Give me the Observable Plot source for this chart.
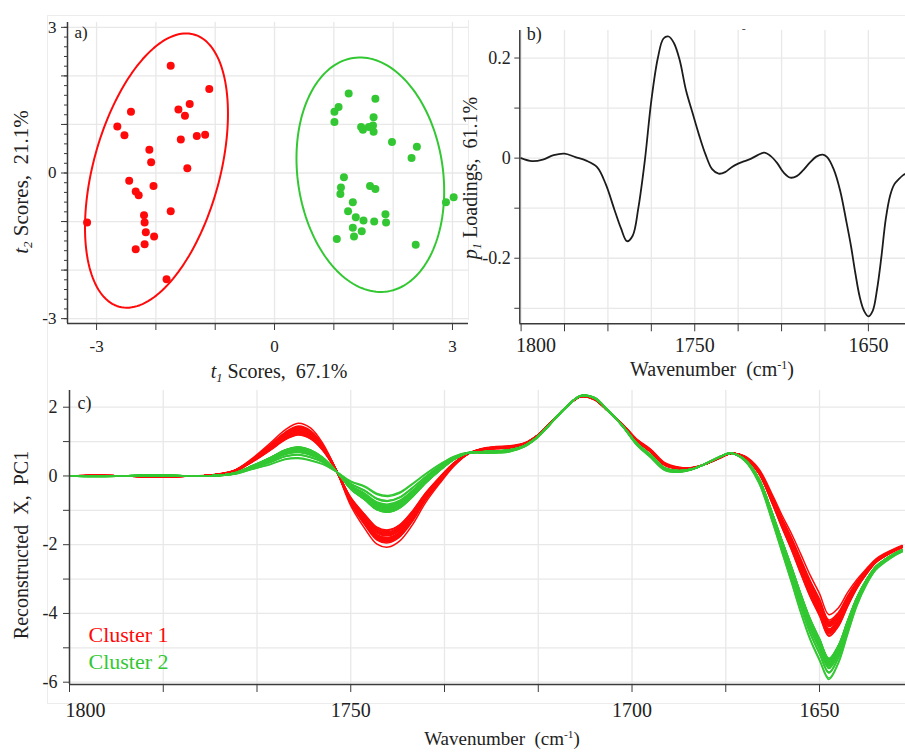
<!DOCTYPE html>
<html><head><meta charset="utf-8">
<script src="https://cdn.jsdelivr.net/npm/d3@7"></script>
<script src="https://cdn.jsdelivr.net/npm/@observablehq/plot@0.6"></script>
<style>
body{margin:0;background:#fff;}
#chart{position:relative;width:905px;height:753px;overflow:hidden;background:#fff;font-family:"Liberation Serif","Times New Roman",serif;color:#222;}
.lbl{position:absolute;white-space:nowrap;font-size:20px;line-height:1.1;color:#222;}
.rot{transform:translate(-50%,-50%) rotate(-90deg);}
.ctr{transform:translate(-50%,-50%);}
.frame{position:absolute;background:#ececec;}
sub{font-size:0.62em;vertical-align:-0.3em;line-height:0;}
sup{font-size:0.6em;vertical-align:0.55em;line-height:0;}
#chart svg text{font-family:"Liberation Serif","Times New Roman",serif;}
</style></head><body><div id="chart"></div><script>
// ---------------- DATA ----------------
const clusterNames = ["Cluster 1", "Cluster 2"];
// Panel a: PCA scores (t1, t2)
const cluster1T1 = [-1.75,-1.10,-2.42,-1.62,-1.43,-1.51,-2.65,-2.53,-1.58,-1.31,-1.17,-2.11,-2.08,-1.47,-2.45,-2.34,-2.29,-2.04,-1.75,-2.20,-2.19,-3.16,-2.17,-2.03,-2.19,-2.34,-1.82];
const cluster1T2 = [2.21,1.73,1.26,1.31,1.42,1.18,0.96,0.78,0.69,0.76,0.79,0.48,0.22,0.10,-0.16,-0.38,-0.46,-0.27,-0.79,-0.87,-1.02,-1.02,-1.22,-1.31,-1.47,-1.57,-2.19];
const cluster2T1 = [1.25,1.70,1.08,1.01,1.01,1.67,1.46,1.49,1.59,1.66,1.67,1.98,2.40,2.31,1.17,1.12,1.11,1.61,1.70,1.32,1.24,1.37,1.50,1.68,1.87,1.88,1.32,1.47,1.34,1.05,2.38,2.89,3.02];
const cluster2T2 = [1.64,1.53,1.36,1.26,1.05,1.15,0.95,0.89,0.95,0.98,0.85,0.64,0.54,0.31,-0.09,-0.30,-0.43,-0.27,-0.33,-0.60,-0.79,-0.91,-0.98,-1.00,-0.85,-1.02,-1.13,-1.20,-1.31,-1.36,-1.48,-0.60,-0.50];
// confidence ellipses: centre, spread, correlation
const ellipseCX = [-1.99, 1.615];
const ellipseCY = [0.05, -0.035];
const ellipseSX = [1.205, 1.245];
const ellipseSY = [2.825, 2.415];
const ellipseRho = [0.415, -0.14];
const scoreTicks = [-3,-2,-1,0,1,2,3];
const scoreTickLabels = [-3,0,3];

// Spectral variable positions (axis index units) and loadings / mean spectrum
const wnIdx = [0,0.25,0.5,0.75,1,1.25,1.5,1.75,1.95,2.15,2.3,2.44,2.57,2.7,2.85,3,3.15,3.28,3.4,3.52,3.65,3.8,3.95,4.1,4.25,4.4,4.55,4.7,4.85,5,5.15,5.3,5.45,5.6,5.75,5.9,6.05,6.2,6.35,6.5,6.65,6.8,6.95,7.05,7.2,7.35,7.5,7.6,7.7,7.8,7.9,8,8.1,8.2,8.3,8.4,8.5,8.6,8.7,8.8,8.88];
const p1Loadings = [0,-0.006,-0.003,0.006,0.009,0.002,-0.005,-0.018,-0.052,-0.103,-0.14,-0.166,-0.155,-0.10,-0.005,0.115,0.20,0.239,0.243,0.23,0.197,0.135,0.09,0.046,0.007,-0.022,-0.031,-0.028,-0.018,-0.011,-0.006,-0.001,0.006,0.011,0.004,-0.01,-0.029,-0.039,-0.036,-0.024,-0.009,0.003,0.007,0.002,-0.022,-0.065,-0.13,-0.176,-0.23,-0.277,-0.305,-0.316,-0.305,-0.262,-0.197,-0.122,-0.075,-0.052,-0.042,-0.034,-0.030];
const meanSpectrum = [0,0,0,0,0,0,0.01,0.10,0.35,0.65,0.90,1.01,0.91,0.64,0.13,-0.50,-0.90,-1.23,-1.30,-1.17,-0.83,-0.34,0.07,0.43,0.66,0.73,0.76,0.79,0.90,1.17,1.59,2.01,2.32,2.25,1.88,1.47,0.985,0.65,0.27,0.18,0.22,0.37,0.56,0.66,0.51,0.01,-0.975,-1.70,-2.40,-3.15,-3.85,-4.42,-5.0,-4.67,-4.01,-3.40,-2.94,-2.58,-2.38,-2.22,-2.12];
const scoreScale = 1.0;
// axis ticks / labels (wavenumber, cm-1)
const bTickPos = [0,1,2,3,4,5,6,7,8];
const bTickLabels = ["1800","1750","1650"];
const bTickLabelPos = [0,4,8];
const cTickPos = [0,1,2,3,4,5,6,7,8];
const cTickLabels = ["1800","1750","1700","1650"];
const cTickLabelPos = [0,3,6,8];
const loadTicks = [-0.3,-0.2,-0.1,0,0.1,0.2];
const loadTickLabels = [-0.2,0,0.2];
const reconTicks = [-6,-5,-4,-3,-2,-1,0,1,2];
const reconTickLabels = [-6,-4,-2,0,2];

// ---------------- BUILD ----------------
const RED = "#ff0a0a", GREEN = "#33c833", GRID = "#e8e8e8", AX = "#3a3a3a";
const FONT = '"Liberation Serif", "Times New Roman", serif';
const fmt = d => (d < 0 ? "-" + Math.abs(d) : String(d));
const style = {fontFamily: FONT, fontSize: "17px", background: "transparent", color: "#222", overflow: "visible"};
const chart = document.getElementById("chart");

function place(el, left, top) {
  el.style.position = "absolute"; el.style.left = left + "px"; el.style.top = top + "px";
  chart.appendChild(el);
}
function addLabel(html, left, top, cls, size) {
  const d = document.createElement("div");
  d.className = "lbl " + cls; d.innerHTML = html;
  d.style.left = left + "px"; d.style.top = top + "px";
  if (size) d.style.fontSize = size + "px";
  chart.appendChild(d);
}
function addFrame(l, t, w, h) {
  const d = document.createElement("div"); d.className = "frame";
  Object.assign(d.style, {left: l + "px", top: t + "px", width: w + "px", height: h + "px"});
  chart.appendChild(d);
}
addFrame(47, 15, 858, 1); addFrame(47, 15, 1, 688); addFrame(47, 703, 858, 1); addFrame(468, 20, 1, 300);

// panel a data
const scorePts = [
  ...cluster1T1.map((t, i) => ({t1: t, t2: cluster1T2[i], cluster: clusterNames[0]})),
  ...cluster2T1.map((t, i) => ({t1: t, t2: cluster2T2[i], cluster: clusterNames[1]}))
];
const ellipsePts = [];
clusterNames.forEach((c, k) => {
  const r = ellipseRho[k], q = Math.sqrt(1 - r * r);
  for (let j = 0; j <= 160; j++) {
    const a = (j / 160) * 2 * Math.PI;
    ellipsePts.push({cluster: c,
      x: ellipseCX[k] + ellipseSX[k] * Math.cos(a),
      y: ellipseCY[k] + ellipseSY[k] * (r * Math.cos(a) + q * Math.sin(a))});
  }
});
const minorScore = d3.range(-15, 16).map(i => i / 5);
const colorScale = {domain: clusterNames, range: [RED, GREEN]};

const plotA = Plot.plot({
  width: 470, height: 360, marginLeft: 67, marginRight: 2, marginTop: 22, marginBottom: 37,
  style, color: colorScale,
  x: {domain: [-3.49, 3.27]}, y: {domain: [-3.1, 3.1]},
  marks: [
    Plot.gridX(scoreTicks, {stroke: GRID, strokeOpacity: 1, strokeWidth: 1.3}),
    Plot.gridY(scoreTicks, {stroke: GRID, strokeOpacity: 1, strokeWidth: 1.3}),
    Plot.line(ellipsePts, {x: "x", y: "y", z: "cluster", stroke: "cluster", strokeWidth: 2}),
    Plot.dot(scorePts, {x: "t1", y: "t2", fill: "cluster", r: 4}),
    Plot.ruleX([-3.49], {stroke: AX, strokeWidth: 1.5}),
    Plot.ruleY([-3.1], {stroke: AX, strokeWidth: 1.5}),
    Plot.axisY(minorScore, {tickSize: 3, tickFormat: () => "", stroke: AX, label: null}),
    Plot.axisY(scoreTicks, {tickSize: 6, tickPadding: 5, stroke: AX, label: null, fontSize: 17, fontFamily: FONT,
      tickFormat: d => scoreTickLabels.includes(d) ? fmt(d) : ""}),
    Plot.axisX(scoreTicks, {tickSize: 7, tickPadding: 9, stroke: AX, label: null, fontSize: 17, fontFamily: FONT,
      tickFormat: d => scoreTickLabels.includes(d) ? fmt(d) : ""}),
    Plot.text(["a)"], {text: d => d, frameAnchor: "top-left", dx: 7, dy: 3, fontSize: 17, fontFamily: FONT})
  ]
});
place(plotA, 0, 0);

// panel b
const loadingData = wnIdx.map((x, i) => ({idx: x, p: p1Loadings[i]}));
const bLabels = bTickLabelPos.map((p, i) => ({pos: p, label: bTickLabels[i]}));
const plotB = Plot.plot({
  width: 450, height: 390, marginLeft: 64.3, marginRight: 0, marginTop: 30, marginBottom: 66.7,
  style,
  x: {domain: [-0.03, 8.855]}, y: {domain: [-0.331, 0.255]},
  marks: [
    Plot.gridX(bTickPos, {stroke: GRID, strokeOpacity: 1, strokeWidth: 1.3}),
    Plot.gridY(loadTicks, {stroke: GRID, strokeOpacity: 1, strokeWidth: 1.3}),
    Plot.line(loadingData, {x: "idx", y: "p", stroke: "#1c1c1c", strokeWidth: 1.8, curve: "catmull-rom", clip: true}),
    Plot.ruleX([-0.03], {stroke: AX, strokeWidth: 1.5}),
    Plot.ruleY([-0.331], {stroke: AX, strokeWidth: 1.5}),
    Plot.axisY(loadTicks, {tickSize: 5, tickPadding: 4, stroke: AX, label: null, fontSize: 18, fontFamily: FONT,
      tickFormat: d => loadTickLabels.some(v => Math.abs(v - d) < 1e-9) ? fmt(d) : ""}),
    Plot.axisX(bTickPos, {tickSize: 8, tickFormat: () => "", stroke: AX, label: null}),
    Plot.text(bLabels, {filter: d => d.pos === 0, x: "pos", text: "label", frameAnchor: "bottom", lineAnchor: "middle", textAnchor: "start", dx: -5, dy: 22, fontSize: 20, fontFamily: FONT}),
    Plot.text(bLabels, {filter: d => d.pos !== 0, x: "pos", text: "label", frameAnchor: "bottom", lineAnchor: "middle", dy: 22, fontSize: 20, fontFamily: FONT}),
    Plot.text(["b)"], {text: d => d, frameAnchor: "top-left", dx: 7, dy: -3, fontSize: 18, fontFamily: FONT}),
    Plot.text(["-"], {text: d => d, frameAnchor: "top-left", dx: 222, dy: -6, fontSize: 12, fill: "#555", fontFamily: FONT})
  ]
});
place(plotB, 455, 0);

// panel c: reconstructed spectra, X = mean + t1 * p1
const reconData = [];
const allT1 = [...cluster1T1.map(t => [t, clusterNames[0]]), ...cluster2T1.map(t => [t, clusterNames[1]])];
allT1.forEach(([t, c], s) => {
  wnIdx.forEach((x, j) => reconData.push({sample: s, cluster: c, idx: x, value: meanSpectrum[j] + scoreScale * t * p1Loadings[j]}));
});
const cLabels = cTickLabelPos.map((p, i) => ({pos: p, label: cTickLabels[i]}));
const plotC = Plot.plot({
  width: 905, height: 373, marginLeft: 69, marginRight: 0, marginTop: 10, marginBottom: 69,
  style, color: colorScale,
  x: {domain: [0, 8.917]}, y: {domain: [-6.067, 2.486]},
  marks: [
    Plot.gridX(cTickPos, {stroke: GRID, strokeOpacity: 1, strokeWidth: 1.3}),
    Plot.gridY(reconTicks, {stroke: GRID, strokeOpacity: 1, strokeWidth: 1.3}),
    Plot.line(reconData, {x: "idx", y: "value", z: "sample", stroke: "cluster", strokeWidth: 1.5, curve: "catmull-rom", clip: true}),
    Plot.ruleX([0], {stroke: AX, strokeWidth: 1.5}),
    Plot.ruleY([-6.067], {stroke: AX, strokeWidth: 1.5}),
    Plot.axisY(reconTicks, {tickSize: 6, tickPadding: 6, stroke: AX, label: null, fontSize: 18, fontFamily: FONT,
      tickFormat: d => reconTickLabels.includes(d) ? fmt(d) : ""}),
    Plot.axisX(cTickPos, {tickSize: 8, tickFormat: () => "", stroke: AX, label: null}),
    Plot.text(cLabels, {filter: d => d.pos === 0, x: "pos", text: "label", frameAnchor: "bottom", lineAnchor: "middle", textAnchor: "start", dx: -4, dy: 26, fontSize: 20, fontFamily: FONT}),
    Plot.text(cLabels, {filter: d => d.pos !== 0, x: "pos", text: "label", frameAnchor: "bottom", lineAnchor: "middle", dy: 26, fontSize: 20, fontFamily: FONT}),
    Plot.text(["c)"], {text: d => d, frameAnchor: "top-left", dx: 8, dy: 6, fontSize: 18, fontFamily: FONT}),
    Plot.text([clusterNames[0]], {text: d => d, frameAnchor: "bottom-left", lineAnchor: "middle", dx: 19, dy: -50, fontSize: 22, fill: RED, fontFamily: FONT}),
    Plot.text([clusterNames[1]], {text: d => d, frameAnchor: "bottom-left", lineAnchor: "middle", dx: 19, dy: -23, fontSize: 22, fill: GREEN, fontFamily: FONT})
  ]
});
place(plotC, 0, 380);

// axis titles (HTML for italic subscripts / superscripts)
addLabel("<i>t</i><sub><i>2</i></sub> Scores,&nbsp; 21.1%", 22, 182, "rot", 21);
addLabel("<i>t</i><sub><i>1</i></sub> Scores,&nbsp; 67.1%", 279, 371, "ctr", 20);
addLabel("<i>p</i><sub><i>1</i></sub> Loadings,&nbsp; 61.1%", 470, 178, "rot", 20);
addLabel("Wavenumber&nbsp; (cm<sup>-1</sup>)", 712, 369, "ctr", 20);
addLabel("Reconstructed&nbsp; X,&nbsp; PC1", 21, 545, "rot", 20);
addLabel("Wavenumber&nbsp; (cm<sup>-1</sup>)", 502, 739, "ctr", 19);
</script></body></html>
